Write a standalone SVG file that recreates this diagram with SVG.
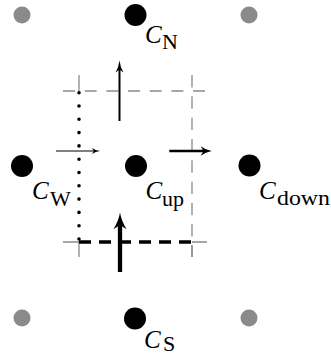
<svg xmlns="http://www.w3.org/2000/svg" width="331" height="356" viewBox="0 0 331 356">
<style>
.g{fill:#8a8a8a}
.b{fill:#000}
.c{font-family:"Liberation Serif",serif;font-style:italic;font-size:25px;fill:#000}
.s{font-family:"Liberation Serif",serif;font-size:22px;fill:#000}
.gd{stroke:#8a8a8a;stroke-width:1.3;fill:none;stroke-dasharray:12 9.67}
.gs{stroke:#8a8a8a;stroke-width:1.3;fill:none}
.ln{stroke:#000;fill:none}
.ah{fill:#000}
</style>
<rect width="331" height="356" fill="#fff"/>
<g id="connectors">
  <line class="gd" x1="63" y1="91" x2="207" y2="91"/>
  <line class="gd" x1="192" y1="75" x2="192" y2="257" style="stroke-dasharray:12.5 8.8"/>
  <path class="gs" d="M79,75V91M79,242V257M63,242H79M192,242H207M192,245V257"/>
  <line class="ln" x1="79" y1="92.7" x2="79" y2="239" stroke-width="3.6" stroke-linecap="round" stroke-dasharray="0 13.3"/>
  <line class="ln" x1="79" y1="242" x2="192" y2="242" stroke-width="3.3" stroke-dasharray="12 8"/>
  <line class="ln" x1="119.5" y1="121" x2="119.5" y2="68" stroke-width="2"/>
  <path class="ah" d="M119.5,60.5 Q118.8,67 115.5,72.5 L119.5,69.5 L123.5,72.5 Q120.2,67 119.5,60.5Z"/>
  <line class="ln" x1="56" y1="151" x2="96" y2="151" stroke-width="1.2"/>
  <path class="ah" d="M100,151 Q95.5,150.3 92,148 L93.8,151 L92,154 Q95.5,151.7 100,151Z"/>
  <line class="ln" x1="169.3" y1="151" x2="205" y2="151" stroke-width="2.7"/>
  <path class="ah" d="M211.7,151 Q205.5,150 200.7,146.2 L203.5,151 L200.7,155.8 Q205.5,152 211.7,151Z"/>
  <line class="ln" x1="120" y1="272" x2="120" y2="224" stroke-width="4.3"/>
  <path class="ah" d="M120,212.3 Q119,220 113.5,229.3 L120,225 L126.5,229.3 Q121,220 120,212.3Z"/>
</g>
<g id="gNW"><circle class="g" cx="22" cy="15" r="8.5"/></g>
<g id="gNE"><circle class="g" cx="249" cy="15" r="8.5"/></g>
<g id="gSW"><circle class="g" cx="22" cy="318" r="8.5"/></g>
<g id="gSE"><circle class="g" cx="249" cy="318" r="8.5"/></g>
<g id="CN"><circle class="b" cx="135.5" cy="15" r="11"/><text class="c" x="145" y="42.5">C</text><text class="s" x="162" y="49">N</text></g>
<g id="CW"><circle class="b" cx="22" cy="166" r="11"/><text class="c" x="32" y="199">C</text><text class="s" x="50" y="205.5">W</text></g>
<g id="Cup"><circle class="b" cx="136" cy="166" r="11"/><text class="c" x="145.5" y="199">C</text><text class="s" x="162" y="205.5">up</text></g>
<g id="Cdown"><circle class="b" cx="249.5" cy="165.5" r="11"/><text class="c" x="259" y="198.5">C</text><text class="s" x="277" y="205" textLength="53" lengthAdjust="spacingAndGlyphs">down</text></g>
<g id="CS"><circle class="b" cx="135" cy="318.5" r="11"/><text class="c" x="144" y="347.5">C</text><text class="s" x="163" y="351">S</text></g>
</svg>
